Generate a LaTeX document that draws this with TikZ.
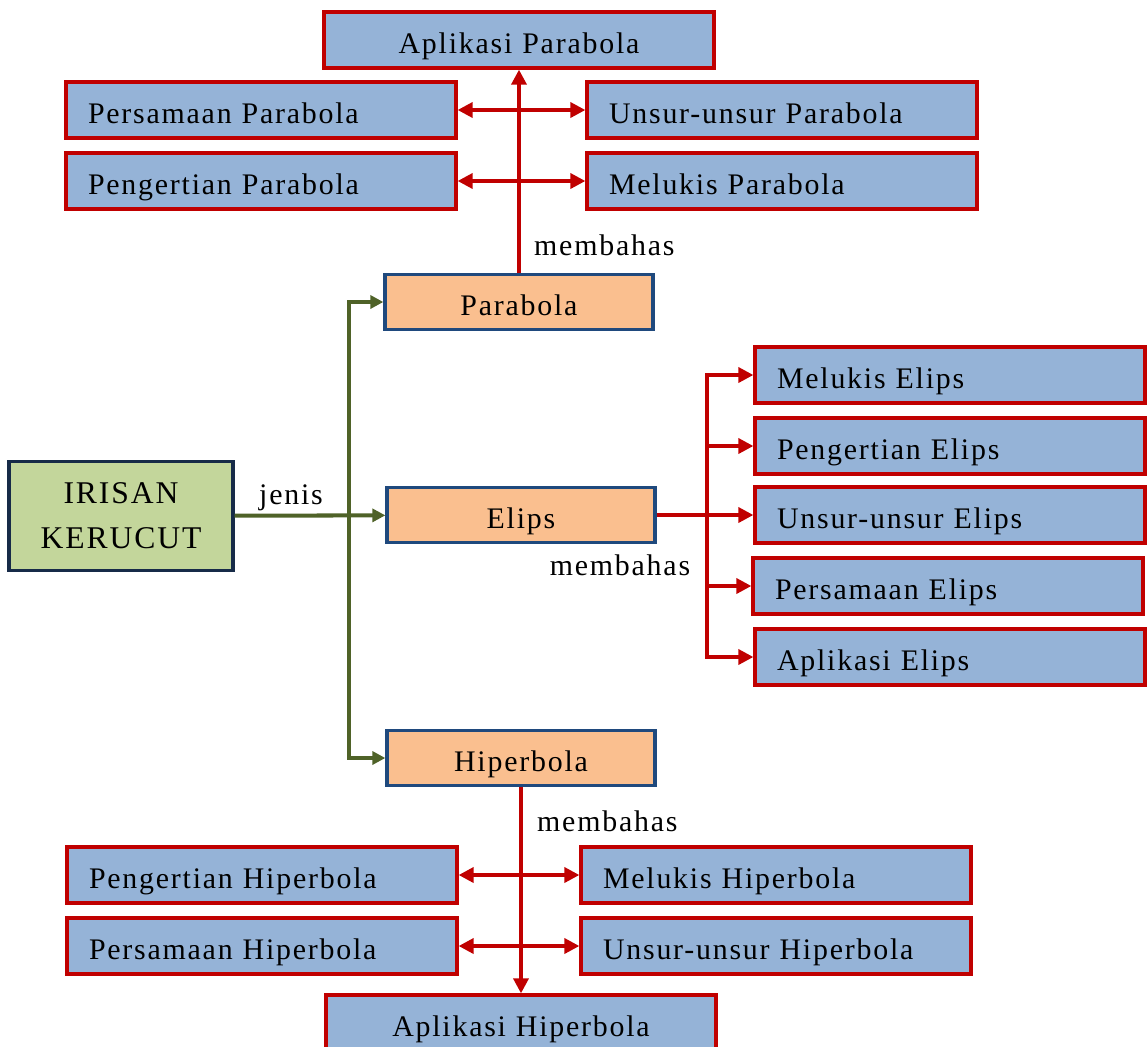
\documentclass[tikz,border=0pt]{standalone}
\usepackage{fontspec}
\setmainfont{Liberation Serif}[LetterSpace=6]
\usepackage{tikz}
\usetikzlibrary{arrows.meta, positioning}

\definecolor{boxblue}{RGB}{149,179,215}
\definecolor{boxred}{RGB}{192,0,0}
\definecolor{boxorange}{RGB}{250,191,143}
\definecolor{boxnavy}{RGB}{31,73,125}
\definecolor{boxgreen}{RGB}{195,214,155}
\definecolor{darknavy}{RGB}{23,43,72}
\definecolor{linegreen}{RGB}{79,98,40}

\begin{document}
\begin{tikzpicture}[
        x=0.02cm, y=-0.02cm,
        font=\fontsize{17}{22}\selectfont,
        topic/.style={rectangle, minimum width=7.8cm, minimum height=1.12cm, text width=6.92cm, inner xsep=0.44cm, text height=16pt, text depth=1pt, align=left, draw=boxred, fill=boxblue, line width=1.9pt},
        apptopic/.style={topic, align=center},
        conic/.style={rectangle, minimum width=5.36cm, minimum height=1.1cm, text height=16pt, text depth=1pt, text centered, draw=boxnavy, fill=boxorange, line width=1.9pt},
        main/.style={rectangle, minimum width=4.48cm, minimum height=2.18cm, align=center, font=\fontsize{18}{25.5}\selectfont, draw=darknavy, fill=boxgreen, line width=1.9pt},
        arrow/.style={line width=2pt, boxred, -{Triangle[length=0.3cm, width=0.3cm]}},
        both/.style={arrow, {Triangle[length=0.3cm, width=0.3cm]}-{Triangle[length=0.3cm, width=0.3cm]}},
        garrow/.style={line width=2.3pt, linegreen, -{Triangle[length=0.26cm, width=0.26cm]}}
    ]
    \useasboundingbox (0,0) rectangle (1147,1046);

    \node (irisan) [main] at (121,516) {IRISAN\\KERUCUT};

    \node (parabola) [conic] at (519,302) {Parabola};
    \node (elips) [conic] at (521,515) {Elips};
    \node (hiperbola) [conic] at (521,758) {Hiperbola};

    % parabola
    \node (aplpar) [apptopic] at (519,40) {Aplikasi Parabola};
    \node (perspar) [topic] at (261,110) {Persamaan Parabola};
    \node (unsurpar) [topic] at (782,110) {Unsur-unsur Parabola};
    \node (pengpar) [topic] at (261,181) {Pengertian Parabola};
    \node (lukispar) [topic] at (782,181) {Melukis Parabola};

    % elips
    \node (lukiselp) [topic] at (950,375) {Melukis Elips};
    \node (pengelp) [topic] at (950,446) {Pengertian Elips};
    \node (unsurelp) [topic] at (950,515) {Unsur-unsur Elips};
    \node (perselp) [topic] at (948,586) {Persamaan Elips};
    \node (aplelp) [topic] at (950,657) {Aplikasi Elips};

    % hiperbola
    \node (penghip) [topic] at (262,875) {Pengertian Hiperbola};
    \node (lukiship) [topic] at (776,875) {Melukis Hiperbola};
    \node (pership) [topic] at (262,946) {Persamaan Hiperbola};
    \node (unsurhip) [topic] at (776,946) {Unsur-unsur Hiperbola};
    \node (aplhip) [apptopic] at (521,1023) {Aplikasi Hiperbola};

    \coordinate (split) at (349,516);
    \coordinate (bus) at (707,515);

    \draw [garrow] (irisan) -- (elips);
    \draw [garrow] (split) |- (parabola.west);
    \draw [garrow] (split) |- (hiperbola.west);
    \node at (291,498) {jenis};

    \draw [arrow] (parabola) -- (aplpar);
    \draw [both] (perspar) -- (unsurpar);
    \draw [both] (pengpar) -- (lukispar);
    \node [anchor=west] at (528,245) {membahas};

    \draw [arrow] (elips) -- (unsurelp);
    \draw [arrow] (bus) |- (lukiselp.west);
    \draw [arrow] (bus) |- (pengelp.west);
    \draw [arrow] (bus) |- (perselp.west);
    \draw [arrow] (bus) |- (aplelp.west);
    \node at (620,565) {membahas};

    \draw [arrow] (hiperbola) -- (aplhip);
    \draw [both] (penghip) -- (lukiship);
    \draw [both] (pership) -- (unsurhip);
    \node [anchor=west] at (531,821) {membahas};

\end{tikzpicture}
\end{document}
